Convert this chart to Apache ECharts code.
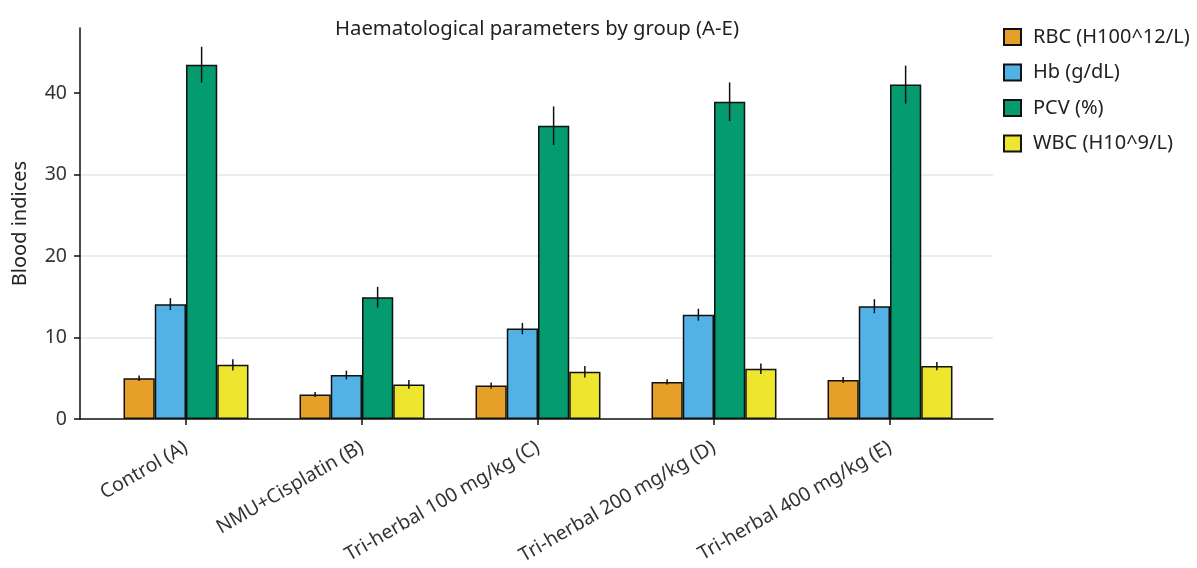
<!DOCTYPE html>
<html><head><meta charset="utf-8">
<script src="https://cdn.jsdelivr.net/npm/echarts@6/dist/echarts.min.js"></script>
<style>html,body{margin:0;padding:0;background:#fff}#c{width:1197px;height:568px}</style>
</head><body><div id="c"></div>
<script>
const categories = ['Control (A)', 'NMU+Cisplatin (B)', 'Tri-herbal 100 mg/kg (C)', 'Tri-herbal 200 mg/kg (D)', 'Tri-herbal 400 mg/kg (E)'];
const seriesNames = ['RBC (H100^12/L)', 'Hb (g/dL)', 'PCV (%)', 'WBC (H10^9/L)'];
const rbc = [5.0, 3.0, 4.1, 4.55, 4.8];
const rbcErr = [0.35, 0.3, 0.37, 0.33, 0.37];
const hb = [14.1, 5.4, 11.1, 12.8, 13.85];
const hbErr = [0.73, 0.53, 0.7, 0.73, 0.86];
const pcv = [43.5, 14.95, 36.0, 38.95, 41.05];
const pcvErr = [2.2, 1.27, 2.37, 2.37, 2.33];
const wbc = [6.65, 4.25, 5.8, 6.17, 6.5];
const wbcErr = [0.7, 0.53, 0.7, 0.65, 0.5];
const yTicks = [0, 10, 20, 30, 40];
const colors = ['#E4A028', '#52B2E5', '#049B6E', '#EDE52E'];

const values = [rbc, hb, pcv, wbc];
const errs = [rbcErr, hbErr, pcvErr, wbcErr];
const barFrac = 0.1775;
const font = 'Noto Sans';

const chart = echarts.init(document.getElementById('c'));
const series = values.map((v, i) => ({
  name: seriesNames[i], type: 'bar', xAxisIndex: 1, yAxisIndex: 1,
  data: v, barWidth: (barFrac * 100) + '%', barGap: '0%',
  itemStyle: { color: colors[i], borderColor: '#111', borderWidth: 1.5 },
  z: 3
}));
const errData = [];
values.forEach((v, s) => v.forEach((val, c) => errData.push([c, val, errs[s][c], s])));
series.push({
  type: 'custom', xAxisIndex: 1, yAxisIndex: 1, z: 5, silent: true,
  data: errData,
  renderItem: function (params, api) {
    const c = api.value(0), val = api.value(1), e = api.value(2), s = api.value(3);
    const band = api.size([1, 0])[0];
    const off = (s - 1.5) * barFrac * band;
    const top = api.coord([c, val + e]);
    const bot = api.coord([c, val - e]);
    return { type: 'line', shape: { x1: top[0] + off, y1: top[1], x2: bot[0] + off, y2: bot[1] },
      style: { stroke: '#111', lineWidth: 1.5 } };
  }
});

chart.setOption({
  animation: false,
  textStyle: { fontFamily: font },
  title: { text: 'Haematological parameters by group (A-E)', left: 532, textAlign: 'center', top: 14,
    textStyle: { fontFamily: font, fontSize: 20.3, fontWeight: 'normal', color: '#222' } },
  legend: {
    data: seriesNames, orient: 'vertical', left: 1003, top: 27, padding: 0, itemWidth: 17, itemHeight: 16, itemGap: 15.5,
    icon: 'rect',
    textStyle: { fontFamily: font, fontSize: 20, lineHeight: 16, color: '#222', padding: [0, 0, 0, 7] }
  },
  grid: [
    { left: 80, right: 204, top: 28, bottom: 149, outerBoundsMode: 'none', containLabel: false },
    { left: 98, right: 219, top: 28, bottom: 149, outerBoundsMode: 'none', containLabel: false }
  ],
  xAxis: [
    { type: 'value', gridIndex: 0, min: 0, max: 1, axisLine: { show: true, onZero: false, lineStyle: { color: '#111', width: 1.5 } },
      axisTick: { show: false }, axisLabel: { show: false }, splitLine: { show: false } },
    { type: 'category', gridIndex: 1, data: categories, axisLine: { show: false },
      axisTick: { show: true, alignWithLabel: true, length: 6, lineStyle: { color: '#111', width: 1.5 } },
      axisLabel: { rotate: 30, fontSize: 19.5, color: '#333', fontFamily: font, margin: 27, interval: 0 } }
  ],
  yAxis: [
    { type: 'value', gridIndex: 0, min: 0, max: 48,
      name: 'Blood indices', nameLocation: 'middle', nameGap: 50,
      nameTextStyle: { fontSize: 20, color: '#222', fontFamily: font },
      axisLine: { show: true, lineStyle: { color: '#111', width: 1.5 } },
      axisTick: { show: true, length: 6, customValues: yTicks, lineStyle: { color: '#111', width: 1.5 } },
      axisLabel: { fontSize: 19.5, color: '#333', fontFamily: font, margin: 13, customValues: yTicks },
      splitLine: { show: true, showMinLine: false, showMaxLine: false, lineStyle: { color: '#e6e6e6', width: 1.5 } },
      interval: 8 },
    { type: 'value', gridIndex: 1, min: 0, max: 48, show: false, splitLine: { show: false } }
  ],
  series: series
});
</script></body></html>
